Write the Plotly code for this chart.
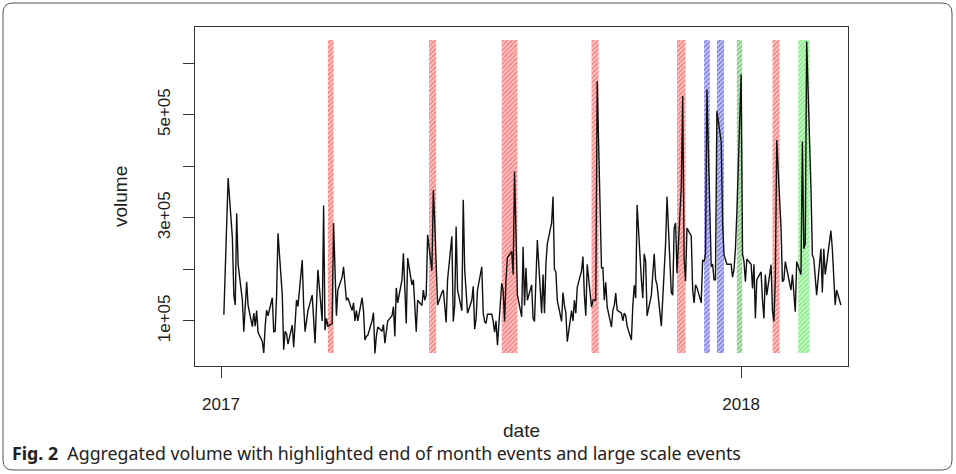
import pandas as pd
import plotly.graph_objects as go

# ---------------- data (volume in thousands, one value per trading day) ----------------
volume_k = [
    112, 200, 300, 377, 260, 150, 131, 309, 210, 140,
    79, 130, 176, 130, 89, 115, 90, 120, 78, 60,
    38, 90, 121, 110, 145, 79, 80, 150, 270, 150,
    44, 80, 75, 55, 92, 49, 90, 141, 128, 218,
    130, 79, 100, 120, 150, 100, 57, 130, 199, 100,
    324, 82, 105, 90, 95, 290, 180, 110, 160, 185,
    205, 170, 140, 145, 120, 135, 100, 120, 100, 145,
    120, 63, 70, 72, 100, 116, 37, 70, 88, 80,
    93, 57, 75, 100, 110, 128, 70, 164, 135, 180,
    231, 165, 95, 222, 170, 180, 130, 79, 140, 130,
    160, 140, 150, 267, 197, 354, 290, 220, 131, 155,
    160, 130, 97, 180, 264, 99, 130, 283, 160, 120,
    335, 200, 150, 115, 140, 167, 84, 105, 160, 205,
    115, 99, 95, 113, 113, 100, 78, 100, 53, 173,
    160, 99, 180, 223, 235, 190, 390, 230, 150, 108,
    244, 130, 203, 140, 170, 105, 99, 180, 257, 115,
    190, 115, 210, 250, 290, 341, 200, 195, 140, 99,
    155, 130, 116, 60, 120, 100, 140, 115, 165, 197,
    225, 150, 110, 210, 127, 140, 141, 140, 565, 203,
    203, 140, 175, 127, 88, 121, 130, 154, 121, 115,
    100, 115, 110, 90, 63, 130, 169, 144, 325, 180,
    144, 230, 215, 110, 150, 190, 230, 180, 170, 90,
    150, 180, 250, 341, 155, 150, 280, 290, 193, 360,
    536, 220, 177, 280, 265, 160, 135, 170, 165, 135,
    218, 215, 230, 549, 205, 210, 180, 180, 507, 448,
    290, 228, 220, 210, 210, 185, 200, 240, 309, 578,
    230, 215, 176, 220, 210, 163, 210, 105, 180, 195,
    140, 105, 190, 150, 209, 120, 99, 183, 451, 280,
    176, 180, 215, 200, 160, 190, 155, 118, 215, 190,
    448, 240, 250, 642, 358, 228, 220, 176, 150, 240,
    155, 240, 190, 210, 275, 240, 190, 131, 160, 131,
]
dates = pd.bdate_range("2017-01-03", periods=len(volume_k))

# highlighted event windows
band_start = ["2017-03-17", "2017-05-27", "2017-07-17", "2017-09-18", "2017-11-17",
              "2017-12-06", "2017-12-15", "2017-12-29", "2018-01-23", "2018-02-10"]
band_end = ["2017-03-21", "2017-06-01", "2017-07-28", "2017-09-23", "2017-11-23",
            "2017-12-10", "2017-12-20", "2018-01-01 18:00", "2018-01-28", "2018-02-18"]
band_color = ["#ff1010", "#ff1010", "#ff1010", "#ff1010", "#ff1010",
              "#1010d8", "#1010d8", "#0a9a0a", "#ff1010", "#20e020"]
band_low = 38000
band_high = 645000

y_ticks = [100000, 200000, 300000, 400000, 500000, 600000]
y_tick_text = ["1e+05", "", "3e+05", "", "5e+05", ""]
x_ticks = ["2017-01-01", "2018-01-01"]
x_tick_text = ["2017", "2018"]

# ---------------- figure ----------------
W, H = 956, 474
L, R, T, B = 195, 848, 27, 366


def xp(px):
    return (px - L) / (R - L)


def yp(py):
    return (B - py) / (B - T)


fig = go.Figure()
fig.add_trace(go.Scatter(
    x=dates, y=[v * 1000 for v in volume_k], mode="lines",
    line=dict(color="#111111", width=1.4), hoverinfo="skip"))

for s, e, c in zip(band_start, band_end, band_color):
    ts, te = pd.Timestamp(s), pd.Timestamp(e)
    mid = ts + (te - ts) / 2
    width_ms = (te - ts).total_seconds() * 1000
    fig.add_trace(go.Bar(
        x=[mid], y=[band_high - band_low], base=[band_low], width=[width_ms],
        marker=dict(color="rgba(0,0,0,0)", line=dict(width=0),
                    pattern=dict(shape="/", fgcolor=c, bgcolor="rgba(0,0,0,0)",
                                 size=3.2, solidity=0.75)),
        hoverinfo="skip"))

font_main = "Liberation Sans, Arial, sans-serif"

# outer rounded frame
fl, fr, ft, fb, rad = 3, 952, 3, 470, 10
path = (f"M {xp(fl + rad)} {yp(ft)} L {xp(fr - rad)} {yp(ft)} "
        f"Q {xp(fr)} {yp(ft)} {xp(fr)} {yp(ft + rad)} L {xp(fr)} {yp(fb - rad)} "
        f"Q {xp(fr)} {yp(fb)} {xp(fr - rad)} {yp(fb)} L {xp(fl + rad)} {yp(fb)} "
        f"Q {xp(fl)} {yp(fb)} {xp(fl)} {yp(fb - rad)} L {xp(fl)} {yp(ft + rad)} "
        f"Q {xp(fl)} {yp(ft)} {xp(fl + rad)} {yp(ft)} Z")

fig.update_layout(
    width=W, height=H,
    margin=dict(l=L, r=W - R, t=T, b=H - B),
    paper_bgcolor="white", plot_bgcolor="white",
    showlegend=False, barmode="overlay",
    font=dict(family=font_main, color="#222222"),
    xaxis=dict(type="date", range=["2016-12-13 18:00", "2018-03-17"],
               tickvals=x_ticks, ticktext=x_tick_text, ticks="outside", ticklen=11,
               tickcolor="#333333", tickwidth=1, showline=True, mirror=True,
               linecolor="#333333", linewidth=1, showgrid=False, zeroline=False,
               tickfont=dict(size=17, family=font_main, color="#222222"),
               ticklabelstandoff=12),
    yaxis=dict(range=[12600, 670000], tickvals=y_ticks, ticktext=y_tick_text,
               tickangle=-90, ticks="outside", ticklen=11, tickcolor="#333333",
               tickwidth=1, showline=True, mirror=True, linecolor="#333333",
               linewidth=1, showgrid=False, zeroline=False,
               tickfont=dict(size=17, family=font_main, color="#222222"),
               ticklabelstandoff=6),
    shapes=[dict(type="path", path=path, xref="paper", yref="paper",
                 line=dict(color="#555555", width=1), fillcolor="rgba(0,0,0,0)")],
    annotations=[
        dict(text="volume", x=xp(120), y=yp(197), xref="paper", yref="paper",
             textangle=-90, showarrow=False, font=dict(size=19, family=font_main, color="#222222"),
             xanchor="center", yanchor="middle"),
        dict(text="date", x=xp(521), y=yp(430), xref="paper", yref="paper",
             showarrow=False, font=dict(size=19, family=font_main, color="#222222"),
             xanchor="center", yanchor="middle"),
        dict(text="<b>Fig. 2</b>  Aggregated volume with highlighted end of month events and large scale events",
             x=xp(10), y=yp(453), xref="paper", yref="paper", showarrow=False,
             font=dict(size=17.8, family="Noto Sans, sans-serif", color="#222222"),
             xanchor="left", yanchor="middle"),
    ],
)

fig.write_html("out.html", config={"displayModeBar": False},
               post_script="document.body.style.margin='0px';")
